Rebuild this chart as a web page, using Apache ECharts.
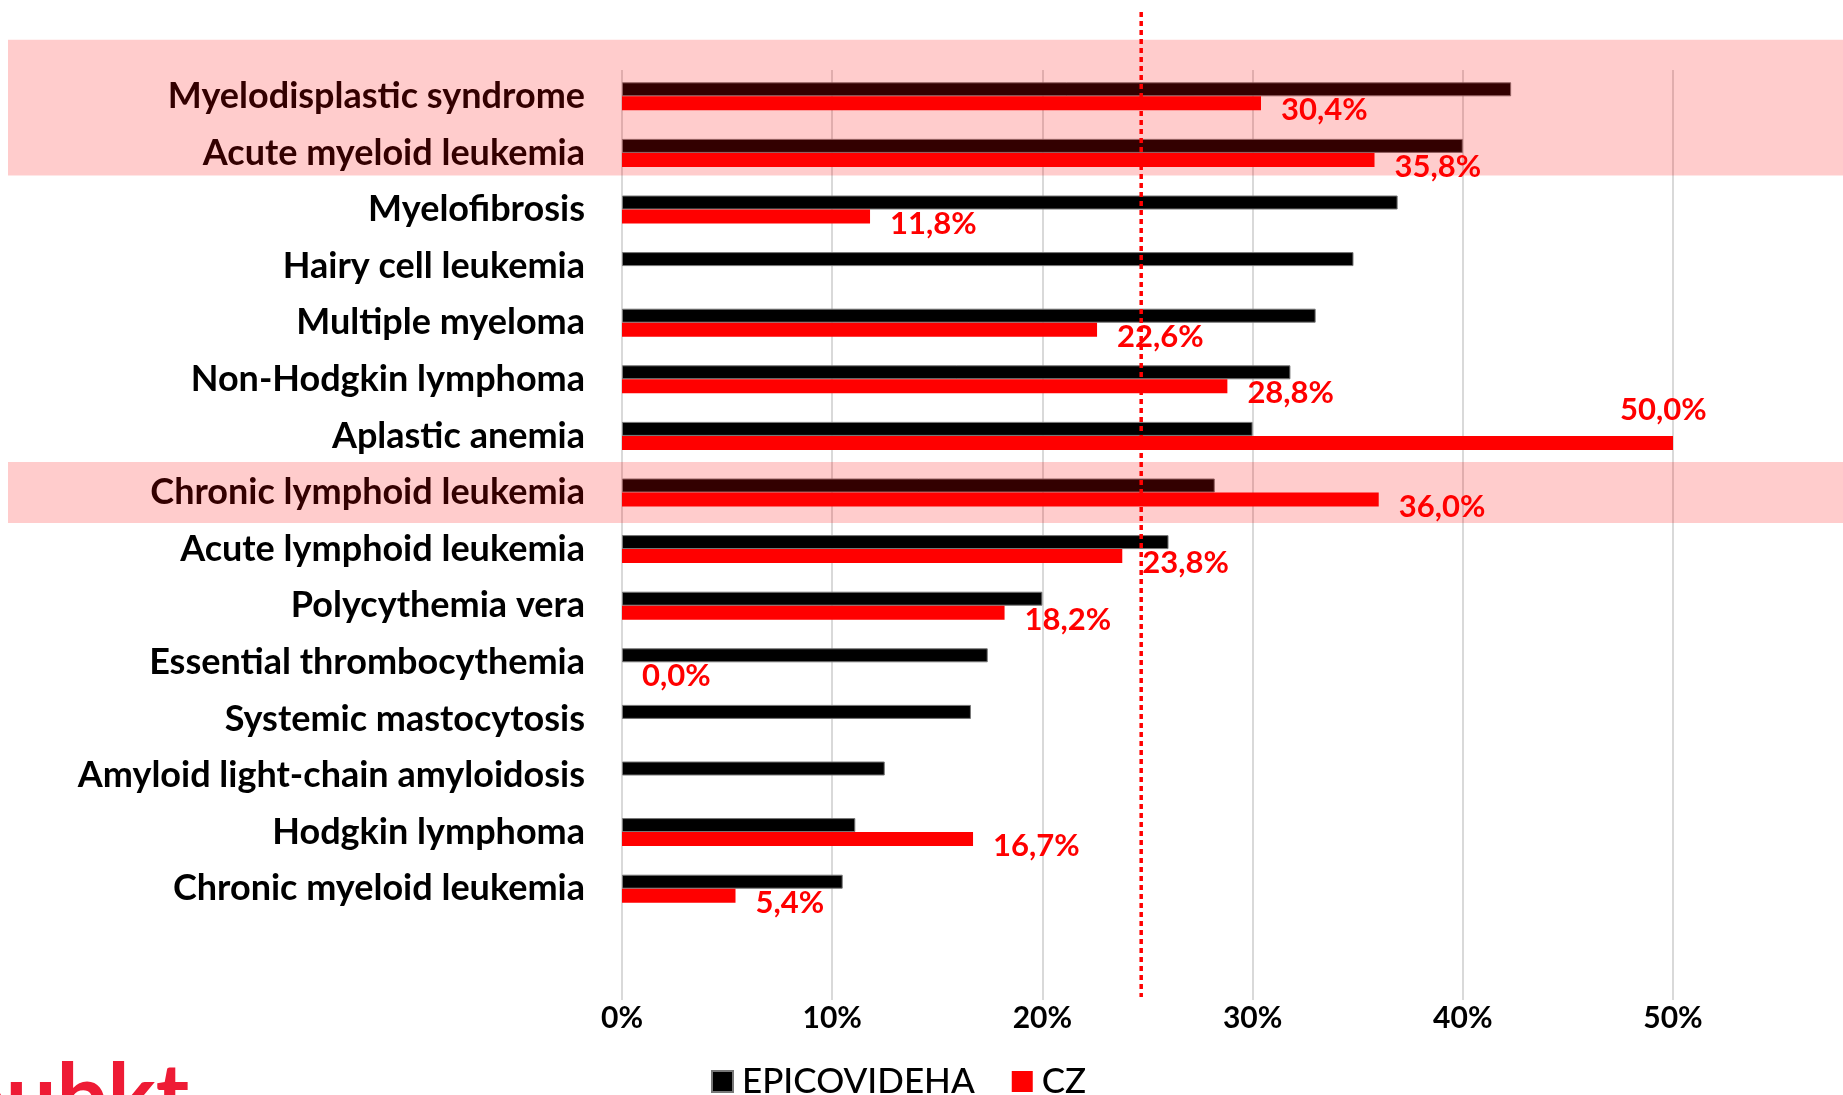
<!DOCTYPE html>
<html>
<head>
<meta charset="utf-8">
<script src="https://cdn.jsdelivr.net/npm/echarts@6/dist/echarts.min.js"></script>
<style>
  html, body { margin: 0; padding: 0; background: #fff; }
  #chart { width: 1843px; height: 1095px; }
</style>
</head>
<body>
<div id="chart"></div>
<script>
// diagnoses, top to bottom
const categories = [
  'Myelodisplastic syndrome',
  'Acute myeloid leukemia',
  'Myelofibrosis',
  'Hairy cell leukemia',
  'Multiple myeloma',
  'Non-Hodgkin lymphoma',
  'Aplastic anemia',
  'Chronic lymphoid leukemia',
  'Acute lymphoid leukemia',
  'Polycythemia vera',
  'Essential thrombocythemia',
  'Systemic mastocytosis',
  'Amyloid light-chain amyloidosis',
  'Hodgkin lymphoma',
  'Chronic myeloid leukemia'
];
// % values
const epicovideha = [42.3, 40.0, 36.9, 34.8, 33.0, 31.8, 30.0, 28.2, 26.0, 20.0, 17.4, 16.6, 12.5, 11.1, 10.5];
const cz = [30.4, 35.8, 11.8, null, 22.6, 28.8, 50.0, 36.0, 23.8, 18.2, 0.0, null, null, 16.7, 5.4];
const xTicks = [0, 10, 20, 30, 40, 50];
const threshold = 24.7;
// highlighted rows (first, last)
const highlighted = [
  ['Myelodisplastic syndrome', 'Acute myeloid leukemia'],
  ['Chronic lymphoid leukemia', 'Chronic lymphoid leukemia']
];

const FONT = 'Lato, "Open Sans", sans-serif';
const chart = echarts.init(document.getElementById('chart'));

const fmt = v => v.toFixed(1).replace('.', ',') + '%';

const czData = cz.map(v => {
  if (v === 50) {
    // label sits above the longest bar
    return { value: v, label: { offset: [-73, -33] } };
  }
  return v;
});

const option = {
  animation: false,
  legend: {
    left: 706,
    top: 1059,
    itemWidth: 21,
    itemHeight: 21,
    itemGap: 37,
    icon: 'rect',
    data: ['EPICOVIDEHA', 'CZ'],
    textStyle: { fontFamily: FONT, fontSize: 35, fontWeight: 500, color: '#000', padding: [0, 0, 0, 4] }
  },
  grid: [
    { left: 622, right: 170, top: 68, height: 849 },
    { left: 622, right: 170, top: 70, height: 930 }
  ],
  xAxis: [
    {
      gridIndex: 0, type: 'value', min: 0, max: 50, interval: 10,
      axisLine: { show: false }, axisTick: { show: false },
      axisLabel: { show: false }, splitLine: { show: false }
    },
    {
      gridIndex: 1, type: 'value', min: xTicks[0], max: xTicks[xTicks.length - 1], interval: 10,
      axisLine: { show: false }, axisTick: { show: false },
      axisLabel: {
        formatter: '{value}%', fontFamily: FONT, fontWeight: 'bold', fontSize: 30,
        color: '#000', margin: 3
      },
      splitLine: { lineStyle: { color: '#d9d9d9', width: 2 } }
    }
  ],
  yAxis: [
    {
      gridIndex: 0, type: 'category', data: categories, inverse: true,
      axisLine: { show: false }, axisTick: { show: false },
      axisLabel: {
        fontFamily: FONT, fontWeight: 'bold', fontSize: 36, color: '#000', margin: 37
      }
    },
    { gridIndex: 1, type: 'value', min: 0, max: 1, show: false }
  ],
  series: [
    {
      name: 'EPICOVIDEHA', type: 'bar', data: epicovideha,
      xAxisIndex: 0, yAxisIndex: 0,
      barWidth: 14, barGap: '0%',
      itemStyle: { color: '#000', borderColor: '#777', borderWidth: 1 }
    },
    {
      name: 'CZ', type: 'bar', data: czData,
      xAxisIndex: 0, yAxisIndex: 0,
      barWidth: 14, barGap: '0%',
      itemStyle: { color: '#ff0000' },
      label: {
        show: true, position: 'right', distance: 20, offset: [0, 7],
        formatter: p => fmt(p.value),
        fontFamily: FONT, fontWeight: 'bold', fontSize: 31, color: '#ff0000'
      }
    }
  ]
};
chart.setOption(option);

// overlays placed through the axes
const xLine = chart.convertToPixel({ xAxisIndex: 0 }, threshold);
const c0 = chart.convertToPixel({ yAxisIndex: 0 }, 0);
const c1 = chart.convertToPixel({ yAxisIndex: 0 }, 1);
const band = c1 - c0;

const rects = highlighted.map(([a, b], i) => {
  const ya = chart.convertToPixel({ yAxisIndex: 0 }, categories.indexOf(a));
  const yb = chart.convertToPixel({ yAxisIndex: 0 }, categories.indexOf(b));
  const top = i === 0 ? ya - band : ya - band * 0.54;
  const bottom = i === 0 ? yb + band * 0.4 : yb + band * 0.54;
  return {
    type: 'rect', z: 100,
    shape: { x: 8, y: top, width: 1843 - 8, height: bottom - top },
    style: { fill: 'rgba(255,0,0,0.2)' }
  };
});

chart.setOption({
  graphic: [
    ...rects,
    {
      type: 'line', z: 110,
      shape: { x1: xLine, y1: 12, x2: xLine, y2: 997 },
      style: { stroke: '#ff0000', lineWidth: 3.5, lineDash: [5, 4] }
    },
    {
      type: 'text', left: -46, top: 1054, z: 10,
      style: { text: 'oubkt', font: 'bold 90px ' + FONT, fill: '#ee1b35' }
    }
  ]
});
</script>
</body>
</html>
